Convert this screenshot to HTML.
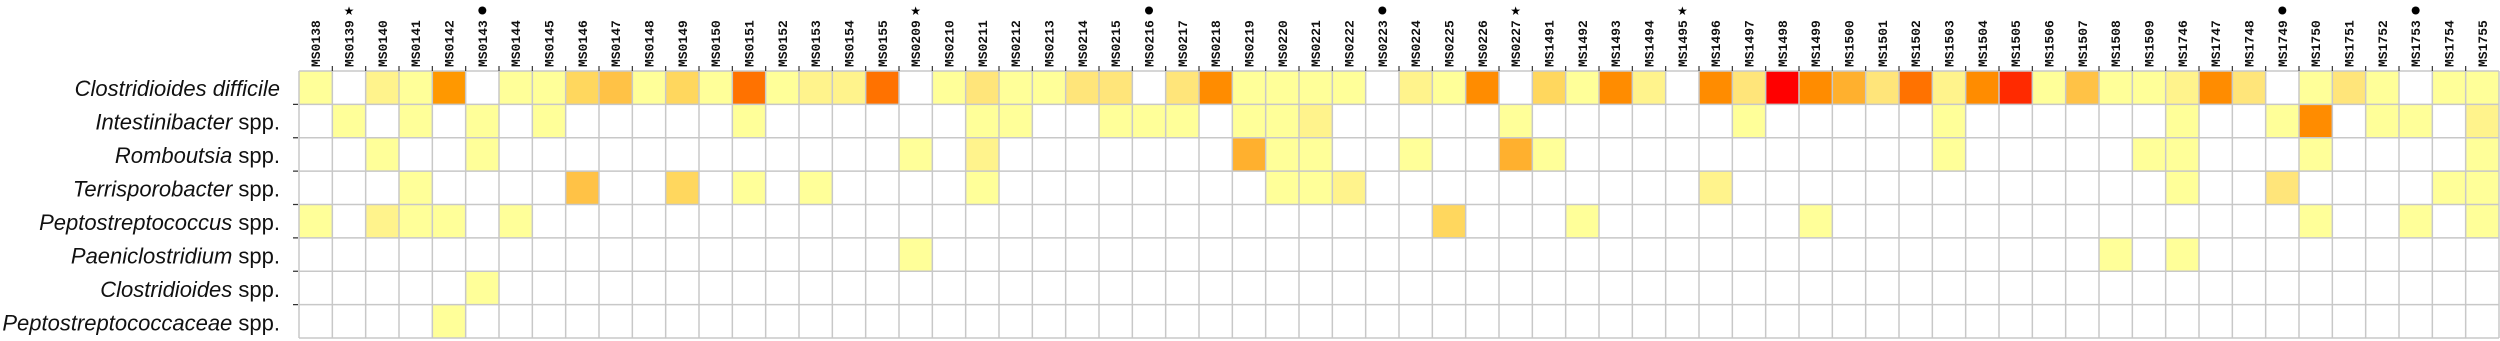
<!DOCTYPE html>
<html><head><meta charset="utf-8"><style>
html,body{margin:0;padding:0;background:#fff;width:2500px;height:341px;overflow:hidden}
svg{display:block}
.cl{font-family:"Liberation Mono",monospace;font-weight:bold;font-size:13px;fill:#111}
.rl{font-family:"Liberation Sans",sans-serif;font-size:22px;fill:#111}
</style></head><body>
<svg id="s" width="2500" height="341" xmlns="http://www.w3.org/2000/svg">
<g id="cells"></g>
<g id="grid"></g>
<g class="rl" text-anchor="end">
<text x="280" y="96"><tspan font-style="italic">Clostridioides difficile</tspan></text>
<text x="280" y="129.5"><tspan font-style="italic">Intestinibacter</tspan> spp.</text>
<text x="280" y="163"><tspan font-style="italic">Romboutsia</tspan> spp.</text>
<text x="280" y="196.5"><tspan font-style="italic">Terrisporobacter</tspan> spp.</text>
<text x="280" y="230"><tspan font-style="italic">Peptostreptococcus</tspan> spp.</text>
<text x="280" y="263.5"><tspan font-style="italic">Paeniclostridium</tspan> spp.</text>
<text x="280" y="297"><tspan font-style="italic">Clostridioides</tspan> spp.</text>
<text x="280" y="330.5"><tspan font-style="italic">Peptostreptococcaceae</tspan> spp.</text>
</g>
<g class="cl" id="cols">
<text>MS0138</text><text>MS0139</text><text>MS0140</text><text>MS0141</text><text>MS0142</text><text>MS0143</text><text>MS0144</text><text>MS0145</text><text>MS0146</text><text>MS0147</text><text>MS0148</text><text>MS0149</text><text>MS0150</text><text>MS0151</text><text>MS0152</text><text>MS0153</text><text>MS0154</text><text>MS0155</text><text>MS0209</text><text>MS0210</text><text>MS0211</text><text>MS0212</text><text>MS0213</text><text>MS0214</text><text>MS0215</text><text>MS0216</text><text>MS0217</text><text>MS0218</text><text>MS0219</text><text>MS0220</text><text>MS0221</text><text>MS0222</text><text>MS0223</text><text>MS0224</text><text>MS0225</text><text>MS0226</text><text>MS0227</text><text>MS1491</text><text>MS1492</text><text>MS1493</text><text>MS1494</text><text>MS1495</text><text>MS1496</text><text>MS1497</text><text>MS1498</text><text>MS1499</text><text>MS1500</text><text>MS1501</text><text>MS1502</text><text>MS1503</text><text>MS1504</text><text>MS1505</text><text>MS1506</text><text>MS1507</text><text>MS1508</text><text>MS1509</text><text>MS1746</text><text>MS1747</text><text>MS1748</text><text>MS1749</text><text>MS1750</text><text>MS1751</text><text>MS1752</text><text>MS1753</text><text>MS1754</text><text>MS1755</text>
</g>
<g id="sym" font-family="DejaVu Sans,sans-serif" font-size="12" text-anchor="middle" fill="#000"></g>
</svg>
<script>
var NS="http://www.w3.org/2000/svg",X0=299,CW=2200/66,Y0=71,RH=267/8;
var C={1:"#ffff99",2:"#fff38c",25:"#ffe57a",3:"#ffd75e",4:"#ffc246",5:"#ffb02e",6:"#ff8c00",7:"#ff7200",8:"#ff2a00",9:"#ff0000",65:"#ff9800"};
var r0=[1,0,2,1,65,0,1,1,3,4,1,3,1,7,1,2,2,7,0,1,25,1,1,25,25,0,25,6,1,1,1,1,0,2,1,6,0,3,1,6,2,0,6,25,9,6,5,25,7,2,6,8,1,4,1,1,2,6,25,0,1,25,1,0,1,1];
var d=[{},{1:1,3:1,5:1,7:1,13:1,20:1,21:1,24:1,25:1,26:1,28:1,29:1,30:2,36:1,43:1,49:1,56:1,59:1,60:6,62:1,63:1,65:2},
{2:1,5:1,18:1,20:2,28:5,29:1,30:1,33:1,36:5,37:1,49:1,55:1,56:1,60:1,65:1},
{3:1,8:4,11:3,13:1,15:1,20:1,29:1,30:1,31:2,42:2,56:1,59:25,64:1,65:1},
{0:1,2:2,3:1,4:1,6:1,34:3,38:1,45:1,60:1,63:1,65:1},
{18:1,54:1,56:1},{5:1},{4:1}];
r0.forEach(function(v,i){if(v)d[0][i]=v;});
var cg=document.getElementById("cells");
d.forEach(function(row,r){for(var k in row){var e=document.createElementNS(NS,"rect");
e.setAttribute("x",X0+k*CW);e.setAttribute("y",Y0+r*RH);e.setAttribute("width",CW);e.setAttribute("height",RH);e.setAttribute("fill",C[row[k]]);cg.appendChild(e);}});
var g=document.getElementById("grid"),p="";
for(var i=0;i<=66;i++){var x=X0+i*CW;p+="M"+x+" "+Y0+"V"+(Y0+8*RH);}
for(var j=0;j<=8;j++){var y=Y0+j*RH;p+="M"+X0+" "+y+"H2499";}
var pa=document.createElementNS(NS,"path");pa.setAttribute("d",p);pa.setAttribute("stroke","#c8c8c8");pa.setAttribute("stroke-width","1.5");pa.setAttribute("fill","none");g.appendChild(pa);
var tk="";for(var i=1;i<66;i++){var x=X0+i*CW;tk+="M"+x+" 66V71";}for(var j=1;j<8;j++){var y=Y0+j*RH;tk+="M293 "+y+"H298";}
var pt=document.createElementNS(NS,"path");pt.setAttribute("d",tk);pt.setAttribute("stroke","#333");pt.setAttribute("stroke-width","1.2");g.appendChild(pt);
var ts=document.getElementById("cols").children;
for(var i=0;i<ts.length;i++){var cx=X0+(i+0.5)*CW+4.5;ts[i].setAttribute("transform","translate("+cx+",67) rotate(-90)");}
var sg=document.getElementById("sym");
[1,18,36,41].forEach(function(i){var t=document.createElementNS(NS,"text");t.setAttribute("x",X0+(i+0.5)*CW);t.setAttribute("y",15);t.textContent="\u2605";sg.appendChild(t);});
[5,25,32,59,63].forEach(function(i){var c=document.createElementNS(NS,"circle");c.setAttribute("cx",X0+(i+0.5)*CW);c.setAttribute("cy",10.5);c.setAttribute("r",4);sg.appendChild(c);});
</script>
</body></html>
